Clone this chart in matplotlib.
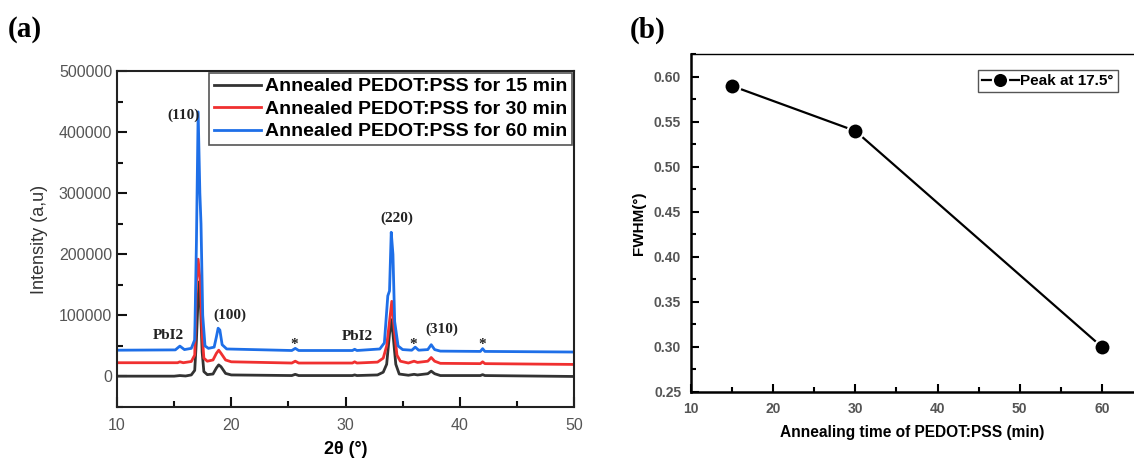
import matplotlib.pyplot as plt
from matplotlib.ticker import MultipleLocator

plt.rcParams['font.family'] = ['Liberation Sans', 'DejaVu Sans']

# (a) XRD patterns
x_15 = [10.0, 15.0, 15.5, 16.0, 16.5, 16.8, 16.95, 17.1, 17.2, 17.3, 17.45, 17.6, 17.9, 18.4, 18.7, 18.9,
        19.1, 19.5, 20.0, 25.3, 25.6, 25.9, 30.6, 30.8, 31.0, 32.8, 33.3, 33.6, 33.85, 34.0, 34.15, 34.4,
        34.7, 35.5, 36.0, 36.3, 37.2, 37.5, 37.8, 38.3, 41.8, 42.0, 42.2, 50.0]
y_15 = [500, 500, 1500, 800, 2500, 10000, 60000, 130000, 155000, 120000, 40000, 8000, 3000, 4000, 14000, 19000,
        16000, 5000, 2500, 1500, 3500, 1500, 1500, 2500, 1500, 2500, 7000, 20000, 70000, 93000, 70000, 20000,
        4000, 2000, 3500, 2500, 4500, 8700, 4500, 1500, 1500, 3000, 1500, 0]

x_30 = [10.0, 15.3, 15.5, 15.8, 16.5, 16.8, 16.95, 17.1, 17.3, 17.45, 17.6, 17.9, 18.4, 18.7, 18.9, 19.1,
        19.5, 20.0, 25.3, 25.6, 25.9, 30.6, 30.8, 31.0, 32.8, 33.3, 33.6, 33.85, 34.05, 34.25, 34.5, 34.8,
        35.5, 36.0, 36.3, 37.2, 37.5, 37.8, 38.3, 41.8, 42.0, 42.2, 50.0]
y_30 = [22500, 22500, 24000, 22500, 24500, 35000, 155000, 192000, 150000, 70000, 30000, 25000, 27000, 38000,
        43000, 38000, 27000, 24000, 22000, 25000, 22000, 22000, 24000, 22000, 23500, 30000, 50000, 90000,
        123000, 80000, 35000, 25000, 22000, 25000, 23000, 25000, 31000, 25000, 21500, 21000, 24000, 21000, 19700]

x_60 = [10.0, 15.1, 15.5, 15.9, 16.5, 16.8, 16.95, 17.1, 17.25, 17.35, 17.5, 17.7, 18.0, 18.5, 18.7, 18.85,
        19.0, 19.2, 19.6, 25.3, 25.6, 25.9, 30.6, 30.8, 31.0, 33.0, 33.4, 33.7, 33.85, 34.0, 34.15, 34.3,
        34.6, 35.0, 35.8, 36.1, 36.4, 37.2, 37.5, 37.8, 38.3, 41.8, 42.0, 42.2, 50.0]
y_60 = [43000, 43500, 49700, 44000, 46000, 60000, 220000, 433000, 300000, 250000, 100000, 50000, 46000, 48000,
        65000, 79000, 76000, 52000, 45000, 42500, 46000, 42500, 42500, 44500, 42500, 45000, 55000, 132000,
        140000, 236000, 200000, 90000, 50000, 44000, 43000, 48000, 43000, 44000, 52000, 44000, 41500, 41000,
        45500, 41000, 40000]

series_labels = ['Annealed PEDOT:PSS for 15 min', 'Annealed PEDOT:PSS for 30 min', 'Annealed PEDOT:PSS for 60 min']
series_colors = ['#333333', '#F03030', '#1E6FE8']

peak_labels = ['(110)', '(100)', 'PbI2', '*', 'PbI2', '(220)', '*', '(310)', '*']
peak_x = [15.8, 19.9, 14.5, 25.5, 31.0, 34.5, 35.9, 38.4, 41.95]
peak_y = [428000, 101000, 67000, 52000, 66000, 259000, 52000, 77000, 52000]

# (b) FWHM
anneal_time = [15, 30, 60]
fwhm = [0.59, 0.54, 0.30]

fig = plt.figure(figsize=(11.34, 4.61), dpi=100)
ax1 = fig.add_axes([0.1032, 0.1171, 0.403, 0.7289])
ax2 = fig.add_axes([0.6093, 0.1497, 0.3907, 0.7332])

tick_gray = '#555555'

for xs, ys, lab, col in zip([x_15, x_30, x_60], [y_15, y_30, y_60], series_labels, series_colors):
    ax1.plot(xs, ys, color=col, lw=2, label=lab)

for t, px, py in zip(peak_labels, peak_x, peak_y):
    ax1.text(px, py, t, family='Liberation Serif', fontweight='bold', fontsize=11,
             ha='center', va='center', color='#222222')

ax1.set_xlim(10, 50)
ax1.set_ylim(-50000, 500000)
ax1.xaxis.set_major_locator(MultipleLocator(10))
ax1.xaxis.set_minor_locator(MultipleLocator(5))
ax1.yaxis.set_major_locator(MultipleLocator(100000))
ax1.yaxis.set_minor_locator(MultipleLocator(50000))
ax1.tick_params(which='both', direction='in', width=1.5, colors='#111111', labelcolor=tick_gray,
                labelsize=11.5, top=False, right=False)
ax1.tick_params(which='major', length=7)
ax1.tick_params(which='minor', length=4)
ax1.tick_params(axis='x', pad=8)
for s in ax1.spines.values():
    s.set_linewidth(1.5)
    s.set_color('#222222')
ax1.set_xlabel('2θ (°)', fontsize=13, fontweight='bold', labelpad=6)
ax1.set_ylabel('Intensity (a,u)', fontsize=13, color='#333333', labelpad=8)
leg1 = ax1.legend(loc='upper right', prop={'weight': 'bold', 'size': 14}, fancybox=False,
                  edgecolor='#555555', framealpha=1, handlelength=2.4, handletextpad=0.2,
                  borderpad=0.25, labelspacing=0.25, borderaxespad=0.1)
leg1.get_frame().set_linewidth(1.2)

ax2.plot(anneal_time, fwhm, color='black', lw=1.6, marker='o', markersize=11.5,
         markerfacecolor='black', markeredgecolor='white', markeredgewidth=1.5, label='Peak at 17.5°')
ax2.set_xlim(10, 63.9)
ax2.set_ylim(0.25, 0.6255)
ax2.xaxis.set_major_locator(MultipleLocator(10))
ax2.xaxis.set_minor_locator(MultipleLocator(5))
ax2.yaxis.set_major_locator(MultipleLocator(0.05))
ax2.yaxis.set_minor_locator(MultipleLocator(0.025))
ax2.yaxis.set_major_formatter(plt.FuncFormatter(lambda v, _: f'{v:.2f}'))
ax2.tick_params(which='both', direction='in', width=1.5, labelcolor=tick_gray, top=False, right=False)
ax2.tick_params(which='major', length=6)
ax2.tick_params(which='minor', length=3.5)
ax2.tick_params(labelsize=10, pad=7)
for lab in ax2.get_xticklabels() + ax2.get_yticklabels():
    lab.set_fontweight('bold')
ax2.spines['right'].set_visible(False)
ax2.spines['left'].set_linewidth(1.8)
ax2.spines['bottom'].set_linewidth(1.8)
ax2.spines['top'].set_linewidth(1.0)
ax2.set_xlabel('Annealing time of PEDOT:PSS (min)', fontsize=11.2, fontweight='bold', labelpad=7)
ax2.set_ylabel('FWHM(°)', fontsize=11, fontweight='bold', labelpad=6)
leg2 = ax2.legend(loc='upper right', bbox_to_anchor=(0.98, 0.975), prop={'weight': 'bold', 'size': 11},
                  fancybox=False, edgecolor='#555555', framealpha=1, handlelength=2.4,
                  handletextpad=0.1, borderpad=0.25, markerscale=0.95)
leg2.get_frame().set_linewidth(1.0)

fig.text(0.007, 0.935, '(a)', family='Liberation Serif', fontweight='bold', fontsize=21, va='center')
fig.text(0.555, 0.935, '(b)', family='Liberation Serif', fontweight='bold', fontsize=21, va='center')

fig.savefig('out.png', dpi=100)
